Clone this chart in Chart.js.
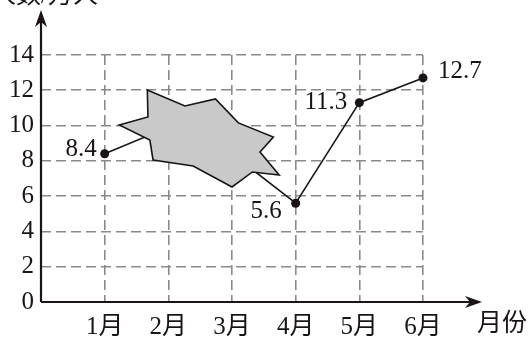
<!DOCTYPE html>
<html>
<head>
<meta charset="utf-8">
<script src="https://cdn.jsdelivr.net/npm/chart.js"></script>
<style>
  html, body { margin: 0; padding: 0; background: #fff; }
  #wrap { width: 530px; height: 338px; }
</style>
</head>
<body>
<div id="wrap"><canvas id="myChart"></canvas></div>
<script>
'use strict';

// months on the x axis and visitor counts (万人)
let months = [1, 2, 3, 4, 5, 6];
let visitors = [8.4, 9.9, 8.4, 5.6, 11.3, 12.7];
// months 2 and 3 are covered by the ink blot, no label there
let pointLabels = ['8.4', '', '', '5.6', '11.3', '12.7'];
let yTicks = [0, 2, 4, 6, 8, 10, 12, 14];

// outline of the ink blot, in data units (month, value)
let blotX = [1.67, 2.26, 2.74, 3.10, 3.65, 3.44, 3.74, 3.32, 3.00, 2.39, 1.76, 1.71, 1.23, 1.68];
let blotY = [12.02, 11.11, 11.51, 10.15, 9.35, 8.50, 7.20, 7.37, 6.52, 7.71, 8.05, 9.18, 10.03, 10.49];

let serif = '"Liberation Serif", "Noto Sans CJK SC", serif';

let points = [];
for (let i = 0; i < months.length; i++) {
  points.push({ x: months[i], y: visitors[i] });
}

// label offsets around each point: [dx, dy, align]
let labelPos = [
  [-8, -4, 'right'],
  [0, 0, 'left'],
  [0, 0, 'left'],
  [-14, 8, 'right'],
  [-12, 0, 'right'],
  [15, -6, 'left']
];

let decor = {
  id: 'decor',
  afterDatasetsDraw(chart) {
    let ctx = chart.ctx;
    let xs = chart.scales.x;
    let ys = chart.scales.y;
    let area = chart.chartArea;

    // ink blot
    ctx.save();
    ctx.beginPath();
    for (let i = 0; i < blotX.length; i++) {
      let px = xs.getPixelForValue(blotX[i]);
      let py = ys.getPixelForValue(blotY[i]);
      if (i === 0) ctx.moveTo(px, py); else ctx.lineTo(px, py);
    }
    ctx.closePath();
    ctx.fillStyle = '#c9c9c9';
    ctx.fill();
    ctx.lineWidth = 1.6;
    ctx.strokeStyle = '#1a1414';
    ctx.lineJoin = 'miter';
    ctx.stroke();

    // axes with arrows
    let ox = xs.getPixelForValue(0);
    let oy = ys.getPixelForValue(0);
    let xEnd = area.right + 59;
    let yEnd = area.top - 45;
    ctx.strokeStyle = '#1a1414';
    ctx.fillStyle = '#1a1414';
    ctx.lineWidth = 2.2;
    ctx.beginPath();
    ctx.moveTo(ox, oy);
    ctx.lineTo(xEnd - 8, oy);
    ctx.moveTo(ox, oy);
    ctx.lineTo(ox, yEnd + 8);
    ctx.stroke();

    ctx.beginPath();
    ctx.moveTo(xEnd, oy);
    ctx.lineTo(xEnd - 17, oy - 6);
    ctx.lineTo(xEnd - 12, oy);
    ctx.lineTo(xEnd - 17, oy + 6);
    ctx.closePath();
    ctx.fill();

    ctx.beginPath();
    ctx.moveTo(ox, yEnd);
    ctx.lineTo(ox - 6, yEnd + 17);
    ctx.lineTo(ox, yEnd + 12);
    ctx.lineTo(ox + 6, yEnd + 17);
    ctx.closePath();
    ctx.fill();

    // point labels
    ctx.font = '25px ' + serif;
    ctx.textBaseline = 'middle';
    for (let i = 0; i < points.length; i++) {
      if (!pointLabels[i]) continue;
      let px = xs.getPixelForValue(points[i].x);
      let py = ys.getPixelForValue(points[i].y);
      ctx.textAlign = labelPos[i][2];
      ctx.fillText(pointLabels[i], px + labelPos[i][0], py + labelPos[i][1]);
    }

    // axis titles
    ctx.textAlign = 'center';
    ctx.fillText('月份', area.right + 79, oy + 22);
    ctx.textAlign = 'right';
    ctx.textBaseline = 'alphabetic';
    ctx.fillText('人数/万人', 98, 3);
    ctx.restore();
  }
};

let ctx = document.getElementById('myChart').getContext('2d');

let myChart = new Chart(ctx, {
  type: 'line',
  data: {
    datasets: [{
      data: points,
      borderColor: '#1a1414',
      borderWidth: 1.6,
      pointRadius: 4.5,
      pointBackgroundColor: '#1a1414',
      pointBorderWidth: 0,
      tension: 0,
      clip: false
    }]
  },
  options: {
    responsive: true,
    maintainAspectRatio: false,
    animation: false,
    events: [],
    layout: { padding: { top: 55, right: 107, left: 0, bottom: 0 } },
    plugins: {
      legend: { display: false },
      tooltip: { enabled: false }
    },
    scales: {
      x: {
        type: 'linear',
        min: 0,
        max: 6,
        border: { display: false, dash: [10, 5] },
        grid: { color: '#8a8a8a', lineWidth: 1.6, drawTicks: false },
        ticks: {
          stepSize: 1,
          padding: 10,
          color: '#1a1414',
          font: { family: serif, size: 25 },
          maxRotation: 0,
          callback: v => v === 0 ? '' : v + '月'
        },
        afterFit: s => { s.height = 36; }
      },
      y: {
        min: 0,
        max: 14,
        border: { display: false, dash: [10, 5] },
        grid: { color: '#8a8a8a', lineWidth: 1.6, drawTicks: false },
        afterBuildTicks: s => { s.ticks = yTicks.map(v => ({ value: v })); },
        ticks: {
          padding: 7,
          color: '#1a1414',
          font: { family: serif, size: 25 }
        },
        afterFit: s => { s.width = 41; }
      }
    }
  },
  plugins: [decor]
});
</script>
</body>
</html>
